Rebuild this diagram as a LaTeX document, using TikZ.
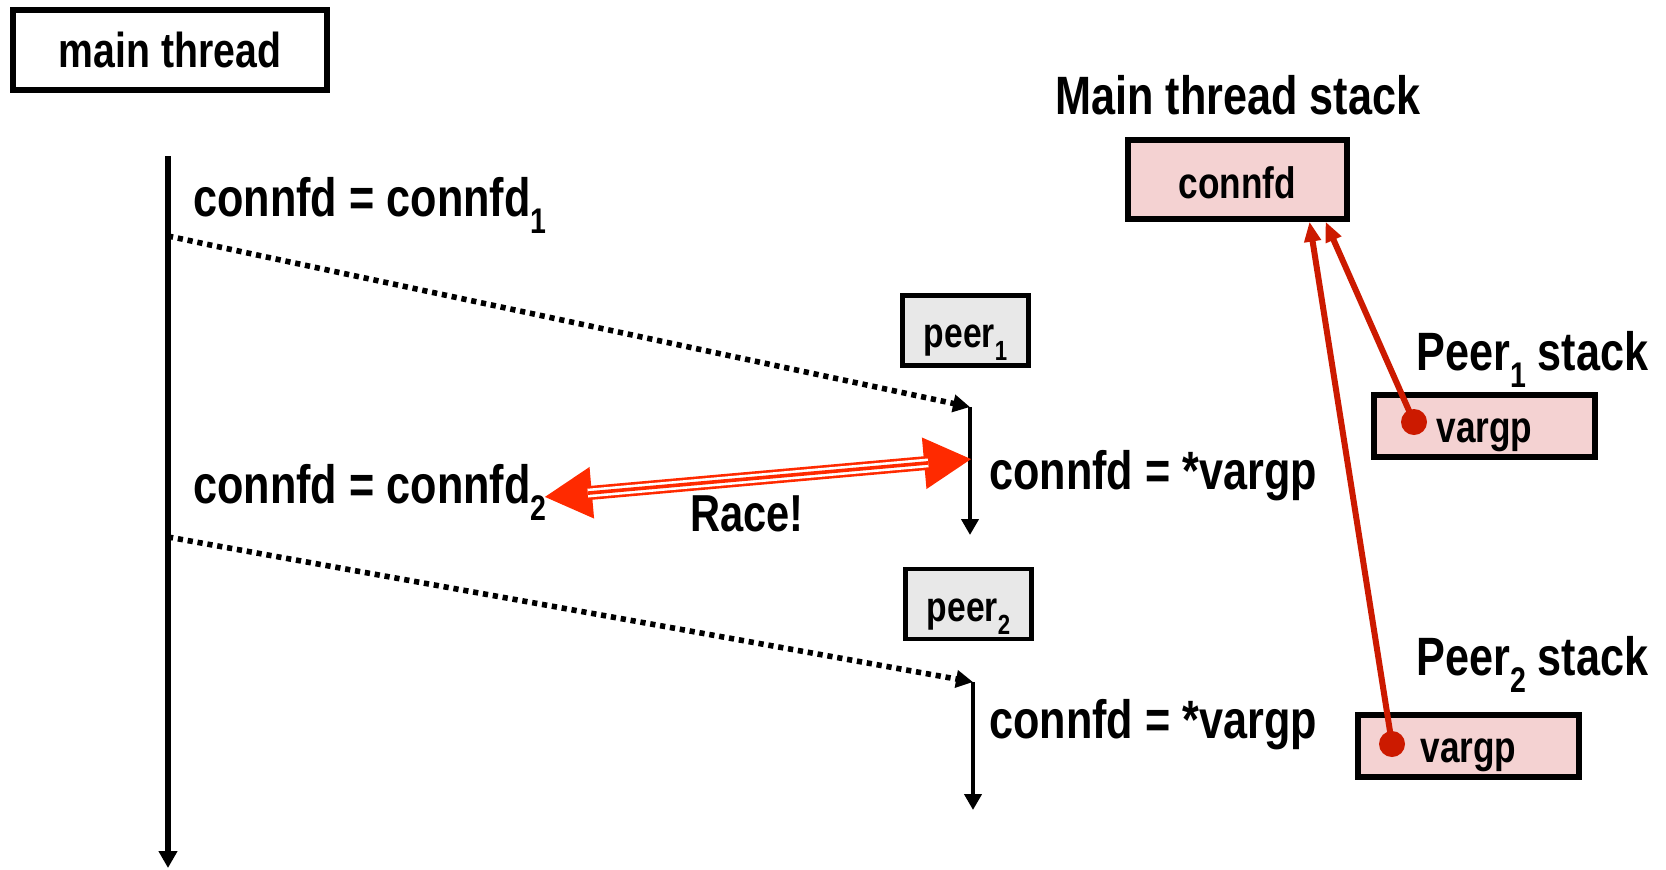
\documentclass[tikz,border=0pt]{standalone}
\usepackage{fontspec}
\setmainfont{Liberation Sans}[FakeStretch=0.8]
\usepackage{graphicx}
\usetikzlibrary{arrows.meta}
\definecolor{racered}{HTML}{FF2A00}
\definecolor{linkred}{HTML}{CC1A00}
\definecolor{stackpink}{HTML}{F4D2D2}
\definecolor{peergray}{HTML}{E8E8E8}
\newcommand\lowidx[1]{\raisebox{-0.32em}{\scalebox{0.66}{#1}}}
\tikzset{
  txt/.style={font=\fontsize{27}{30}\selectfont\bfseries, inner sep=0pt},
  threadbox/.style={draw, line width=2.6pt, minimum width=157pt, minimum height=40pt,
    inner sep=0pt, font=\fontsize{24.5}{28}\selectfont\bfseries},
  peerbox/.style={draw, fill=peergray, line width=2.2pt, minimum width=63pt,
    minimum height=35pt, inner sep=0pt, text height=17pt, text depth=0pt,
    font=\fontsize{21}{24}\selectfont\bfseries},
  stackbox/.style={draw, fill=stackpink, line width=2.6pt, inner sep=0pt,
    text depth=0pt, font=\fontsize{22}{25}\selectfont\bfseries},
  timeline/.style={line width=2.8pt, -{Triangle[length=8.5pt,width=9pt]}},
  peerline/.style={line width=2.3pt, -{Triangle[length=8pt,width=8.5pt]}},
  spawn/.style={line width=2.8pt, dash pattern=on 2.6pt off 2.4pt,
    -{Triangle[length=8.5pt,width=8.5pt]}},
  pointer/.style={draw=linkred, line width=3pt, -{Triangle[length=10pt,width=8pt]}},
  pin/.style={circle, fill=linkred, inner sep=0pt, minimum size=13pt},
}
\begin{document}
\begin{tikzpicture}[x=0.5pt, y=-0.5pt]
\useasboundingbox (0,0) rectangle (1666,869);

% main thread and its time line
\node[threadbox] (main) at (170,50) {main thread};
\coordinate (mtop) at (168,156);
\coordinate (mbot) at (168,868);
\coordinate (m1) at (168,236);
\coordinate (m2) at (168,537);
\draw[timeline] (mtop) -- (mbot);
\node[txt, anchor=base west] (c1) at (193,216) {connfd = connfd\lowidx{1}};
\node[txt, anchor=base west] (c2) at (193,503) {connfd = connfd\lowidx{2}};

% peer threads
\node[peerbox] (peer1) at (965.5,330.5) {peer\lowidx{1}};
\node[peerbox] (peer2) at (968.5,604) {peer\lowidx{2}};
\coordinate (p1t) at (970,407);
\coordinate (p1b) at (970,535);
\coordinate (p2t) at (973,682);
\coordinate (p2b) at (973,810);
\draw[peerline] (p1t) -- (p1b);
\draw[peerline] (p2t) -- (p2b);
\draw[spawn] (m1) -- (p1t);
\draw[spawn] (m2) -- (p2t);
\node[txt, anchor=base west] (v1) at (989,489) {connfd = *vargp};
\node[txt, anchor=base west] (v2) at (989,738) {connfd = *vargp};

% the race between the two assignments
\coordinate (rl) at (544,497);
\coordinate (rr) at (972,459);
\draw[racered, line width=7pt,
  {Triangle[length=24pt,width=24pt]}-{Triangle[length=24pt,width=24pt]}] (rl) -- (rr);
\draw[white, line width=4.4pt, shorten <=22pt, shorten >=22pt] (rl) -- (rr);
\draw[racered, line width=1.8pt, shorten <=22pt, shorten >=22pt] (rl) -- (rr);
\node[txt, font=\fontsize{26}{29}\selectfont\bfseries, anchor=base] (race) at (747,531) {Race!};

% stacks
\node[txt, anchor=base] (mst) at (1238,114) {Main thread stack};
\node[stackbox, text height=19pt, minimum width=109.5pt, minimum height=39.5pt] (ms) at (1237.5,179.5) {connfd};
\node[txt, anchor=base west] (s1) at (1416,370) {Peer\lowidx{1} stack};
\node[stackbox, text height=16pt, minimum width=110.5pt, minimum height=31pt] (vg1) at (1484.5,426) {vargp};
\node[txt, anchor=base west] (s2) at (1416,675) {Peer\lowidx{2} stack};
\node[stackbox, text height=16pt, minimum width=110.5pt, minimum height=31pt] (vg2) at (1468.5,746) {vargp};

\node[pin] (d1) at (1414,422) {};
\node[pin] (d2) at (1392,744) {};
\draw[pointer] (d1.center) -- ([xshift=44pt]ms.south);
\draw[pointer] (d2.center) -- ([xshift=36pt]ms.south);
\end{tikzpicture}
\end{document}
